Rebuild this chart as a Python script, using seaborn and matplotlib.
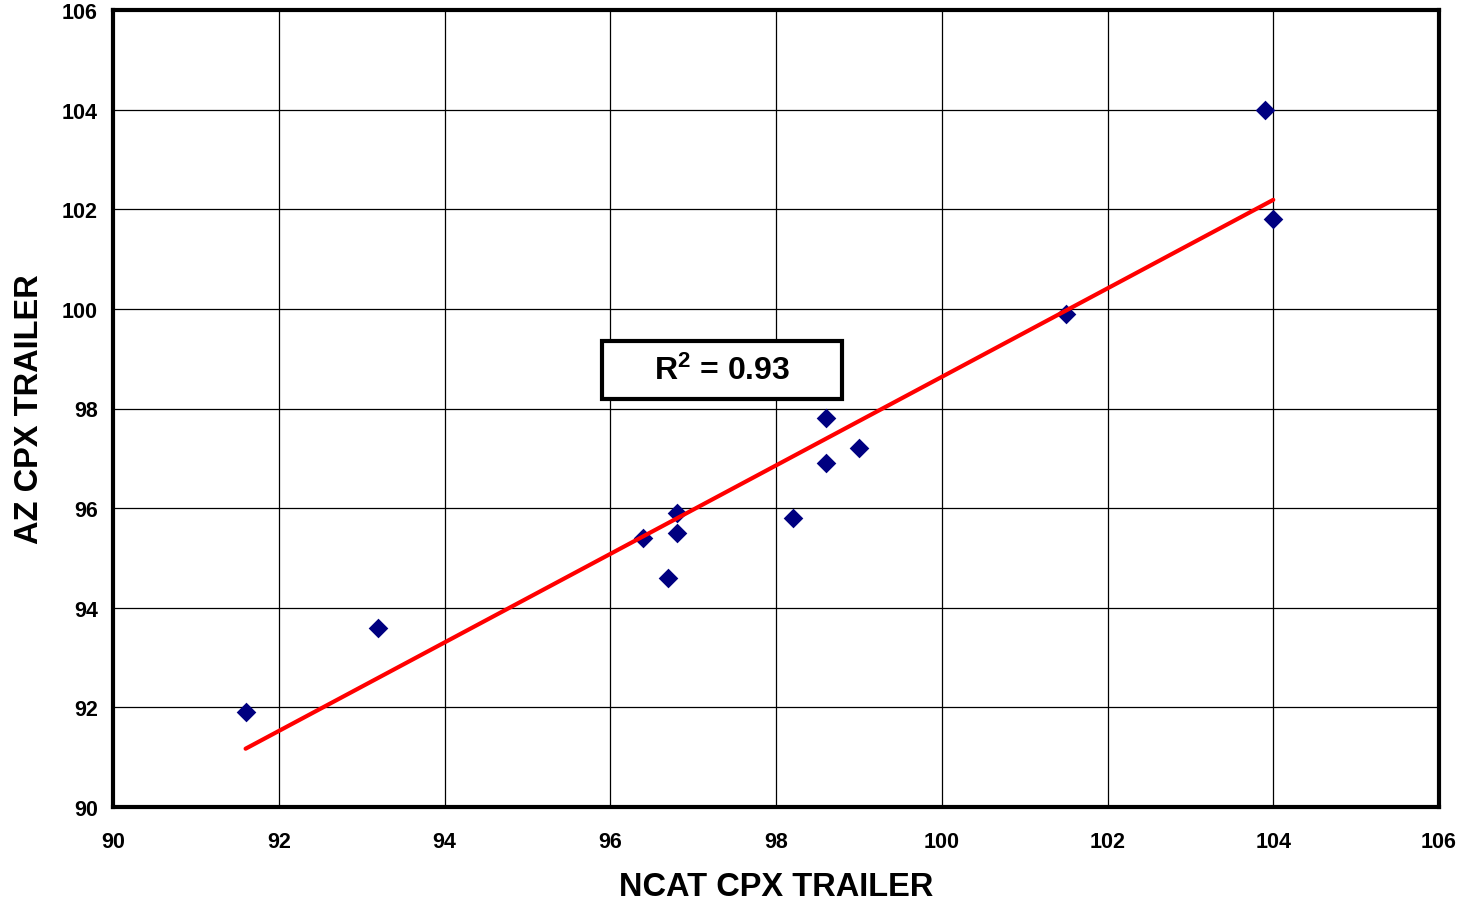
import numpy as np
import pandas as pd
import seaborn as sns
import matplotlib
matplotlib.use("Agg")
import matplotlib.pyplot as plt
from matplotlib.patches import Rectangle

ncat = [91.6, 93.2, 96.4, 96.7, 96.8, 96.8, 98.2, 98.6, 98.6, 99.0, 101.5, 103.9, 104.0]
az = [91.9, 93.6, 95.4, 94.6, 95.9, 95.5, 95.8, 97.8, 96.9, 97.2, 99.9, 104.0, 101.8]
ticks = [90, 92, 94, 96, 98, 100, 102, 104, 106]
r2_label = "R$^2$ = 0.93"

sns.set_theme(style="white")
plt.rcParams['font.family'] = ['Liberation Sans', 'DejaVu Sans']
plt.rcParams['font.weight'] = 'bold'
plt.rcParams['text.color'] = 'black'
plt.rcParams['axes.labelcolor'] = 'black'
plt.rcParams['xtick.color'] = 'black'
plt.rcParams['ytick.color'] = 'black'
plt.rcParams['mathtext.fontset'] = 'custom'
plt.rcParams['mathtext.rm'] = 'Liberation Sans:bold'
plt.rcParams['mathtext.it'] = 'Liberation Sans:bold'
plt.rcParams['mathtext.bf'] = 'Liberation Sans:bold'
plt.rcParams['mathtext.default'] = 'bf'

df = pd.DataFrame({"ncat": ncat, "az": az})

fig = plt.figure(figsize=(14.59, 9.04), dpi=100)
ax = fig.add_axes([113/1459, 1-808/904, (1439-113)/1459, (808-11)/904])

sns.scatterplot(data=df, x="ncat", y="az", marker="D", s=100, color="#000080",
                edgecolor="#000080", linewidth=0, ax=ax, zorder=3)

coef = np.polyfit(df["ncat"], df["az"], 1)
xs = np.array([df["ncat"].min(), df["ncat"].max()])
sns.lineplot(x=xs, y=np.polyval(coef, xs), color="#ff0000", linewidth=3, ax=ax, zorder=4)

ax.set_xlim(90, 106)
ax.set_ylim(90, 106)
ax.set_xticks(ticks)
ax.set_yticks(ticks)
ax.set_xticklabels([str(t) for t in ticks], fontsize=15.5, fontweight='bold', color='black')
ax.set_yticklabels([str(t) for t in ticks], fontsize=15.5, fontweight='bold', color='black')
ax.grid(True, color="black", linewidth=0.9)
ax.set_axisbelow(True)
for s in ax.spines.values():
    s.set_visible(True)
    s.set_color("black")
    s.set_linewidth(3)
ax.tick_params(axis='both', direction='out', length=6, width=1, color='black')
ax.tick_params(axis='y', pad=5)
ax.tick_params(axis='x', pad=11)

ax.set_xlabel("NCAT CPX TRAILER", fontsize=23.5, fontweight='bold', labelpad=14, color='black')
ax.set_ylabel("AZ CPX TRAILER", fontsize=23.5, fontweight='bold', labelpad=12, color='black')

x0, x1 = (602-113)/1326, (842-113)/1326
y0, y1 = (808-400)/797, (808-342)/797
ax.add_patch(Rectangle((x0, y0), x1-x0, y1-y0, transform=ax.transAxes,
                       facecolor='white', edgecolor='black', linewidth=3, zorder=5))
ax.text((x0+x1)/2, (y0+y1)/2, r2_label, fontsize=23, fontweight='bold', ha='center', va='center',
        color='black', transform=ax.transAxes, zorder=6)

fig.savefig("out.png", dpi=100, facecolor="white")
